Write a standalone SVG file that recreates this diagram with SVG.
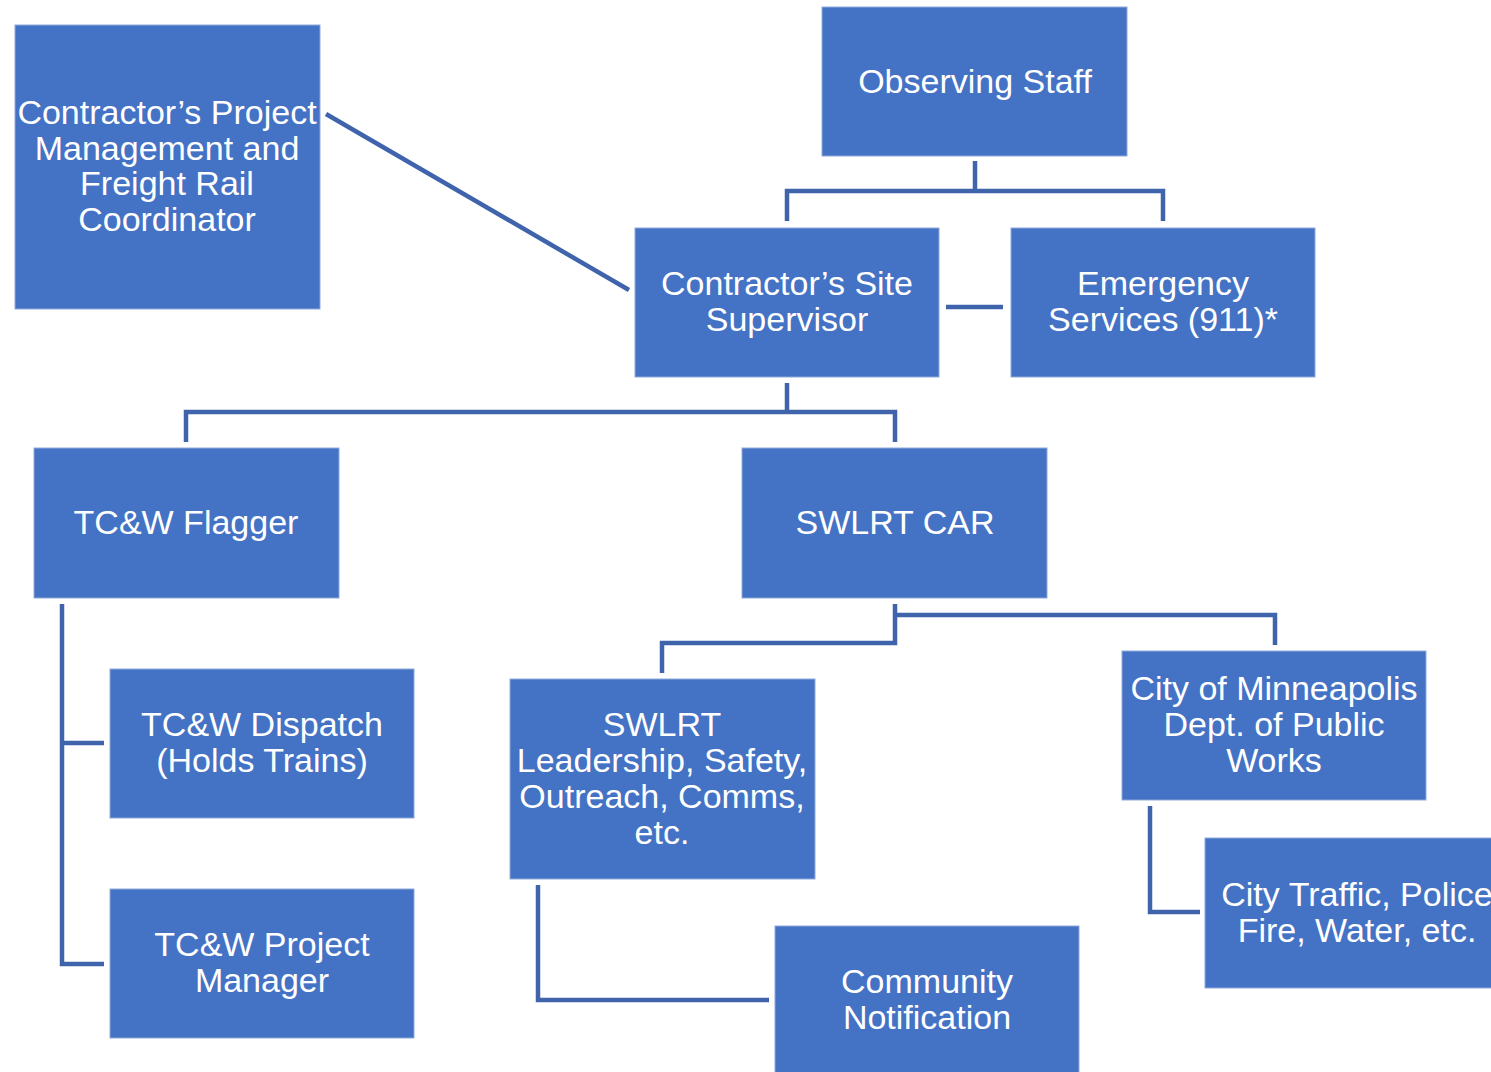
<svg xmlns="http://www.w3.org/2000/svg" width="1491" height="1072" viewBox="0 0 1491 1072">
<style>
.box{fill:#4472C4;stroke:#8FAADC;stroke-width:1}
.t{font-family:"Liberation Sans",Arial,sans-serif;font-size:34px;fill:#FFFFFF;text-anchor:middle}
.c{fill:none;stroke:#3F64AB;stroke-width:4.5;stroke-linejoin:miter}
</style>
<rect width="1491" height="1072" fill="#FFFFFF"/>
<g id="connectors">
<polyline class="c" points="975,161 975,191"/>
<polyline class="c" points="787,221 787,191 1163,191 1163,221"/>
<line class="c" x1="946" y1="307" x2="1003" y2="307"/>
<line class="c" x1="326" y1="114" x2="629" y2="290"/>
<polyline class="c" points="787,383 787,412"/>
<polyline class="c" points="186,442 186,412 895,412 895,442"/>
<polyline class="c" points="62,604 62,964 104,964"/>
<line class="c" x1="62" y1="743" x2="104" y2="743"/>
<polyline class="c" points="895,604 895,643 662,643 662,673"/>
<polyline class="c" points="895,615 1275,615 1275,645"/>
<polyline class="c" points="538,885 538,1000 769,1000"/>
<polyline class="c" points="1150,806 1150,912 1200,912"/>
</g>
<g id="n-observing"><rect class="box" x="822" y="7" width="305" height="149"/><text class="t" x="975" y="93">Observing Staff</text></g>
<g id="n-pm"><rect class="box" x="15" y="25" width="305" height="284"/><text class="t" x="167" y="124">Contractor’s Project</text><text class="t" x="167" y="160">Management and</text><text class="t" x="167" y="195">Freight Rail</text><text class="t" x="167" y="231">Coordinator</text></g>
<g id="n-site"><rect class="box" x="635" y="228" width="304" height="149"/><text class="t" x="787" y="295">Contractor’s Site</text><text class="t" x="787" y="331">Supervisor</text></g>
<g id="n-emergency"><rect class="box" x="1011" y="228" width="304" height="149"/><text class="t" x="1163" y="295">Emergency</text><text class="t" x="1163" y="331">Services (911)*</text></g>
<g id="n-flagger"><rect class="box" x="34" y="448" width="305" height="150"/><text class="t" x="186" y="534">TC&amp;W Flagger</text></g>
<g id="n-car"><rect class="box" x="742" y="448" width="305" height="150"/><text class="t" x="895" y="534">SWLRT CAR</text></g>
<g id="n-dispatch"><rect class="box" x="110" y="669" width="304" height="149"/><text class="t" x="262" y="736">TC&amp;W Dispatch</text><text class="t" x="262" y="772">(Holds Trains)</text></g>
<g id="n-tcwpm"><rect class="box" x="110" y="889" width="304" height="149"/><text class="t" x="262" y="956">TC&amp;W Project</text><text class="t" x="262" y="992">Manager</text></g>
<g id="n-leadership"><rect class="box" x="510" y="679" width="305" height="200"/><text class="t" x="662" y="736">SWLRT</text><text class="t" x="662" y="772">Leadership, Safety,</text><text class="t" x="662" y="808">Outreach, Comms,</text><text class="t" x="662" y="844">etc.</text></g>
<g id="n-minneapolis"><rect class="box" x="1122" y="651" width="304" height="149"/><text class="t" x="1274" y="700">City of Minneapolis</text><text class="t" x="1274" y="736">Dept. of Public</text><text class="t" x="1274" y="772">Works</text></g>
<g id="n-citytraffic"><rect class="box" x="1205" y="838" width="305" height="150"/><text class="t" x="1357" y="906">City Traffic, Police</text><text class="t" x="1357" y="942">Fire, Water, etc.</text></g>
<g id="n-community"><rect class="box" x="775" y="926" width="304" height="150"/><text class="t" x="927" y="993">Community</text><text class="t" x="927" y="1029">Notification</text></g>
</svg>
